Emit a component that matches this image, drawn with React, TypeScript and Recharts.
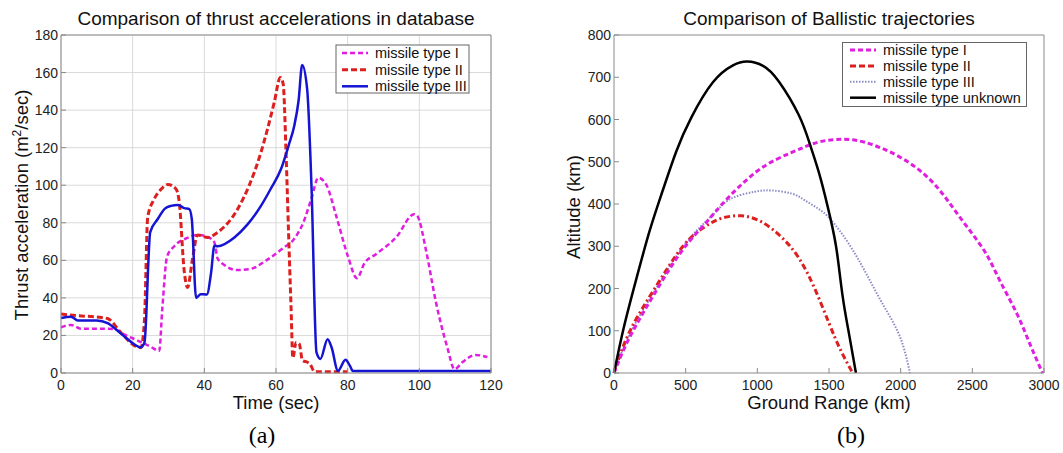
import React from 'react';
import { LineChart, Line, XAxis, YAxis, CartesianGrid } from 'recharts';

// (a) thrust acceleration vs time, [t (sec), a (m2/sec)]
const thrustTypeI = [
  [0, 24.3], [2.8, 25.6], [5.6, 23.6], [10, 23.6], [14.9, 23.4], [17.7, 20.5], [20, 18.5], [22.3, 16.5],
  [25, 14], [27.4, 11.8], [28.3, 35], [29.6, 62], [31.6, 67.5], [35.3, 72], [38.1, 73.5], [40.9, 72.5],
  [42.8, 69.6], [43.7, 61], [45.6, 57.5], [49.3, 54.8], [53, 55.5], [57.7, 60.5], [62, 66.5], [65.1, 71.5],
  [67.6, 80], [69.9, 93], [71.8, 104], [74.1, 100], [76.9, 83], [80.1, 62], [82.6, 50.5], [84.7, 58.5],
  [88, 63.4], [93.5, 72.2], [98.6, 84.6], [99.5, 83.5], [101.9, 65], [104.6, 38], [107.9, 13], [109.8, 2],
  [112, 5.7], [115.7, 9.6], [119, 8.5],
];
const thrustTypeII = [
  [0, 31.4], [4.7, 30.5], [10, 29.8], [13, 29], [16.7, 21.6], [20.5, 14.6], [22.3, 13.5], [23.3, 28.7],
  [24.2, 83], [26, 92.6], [28, 98], [29.8, 100.4], [32.1, 98], [33, 91], [34.4, 54], [35.3, 45.6],
  [36.7, 60.7], [38.1, 73.5], [40.9, 72.2], [43.7, 74.9], [49.3, 87.3], [55.8, 117.5], [59.5, 144],
  [61.2, 157.4], [62, 154], [62.8, 117.5], [63.5, 75], [64.2, 35], [64.7, 8], [65.6, 16.3], [66.5, 15.4],
  [67.4, 6.6], [68.8, 5.7], [69.4, 5], [70.8, 0.7], [80, 0.7],
];
const thrustTypeIII = [
  [0, 29.3], [2.8, 30], [4.7, 28], [10, 28], [13, 26.6], [15.8, 22.5], [18.6, 18], [22.3, 13.7],
  [23.3, 16.3], [24.9, 75], [27, 82], [29, 87.5], [30.7, 89], [32.6, 89.5], [34.4, 87.8], [35.8, 87.3],
  [36.5, 82], [37.7, 40], [39, 42], [40.7, 41.8], [41.9, 53.6], [42.8, 67.8], [43.7, 67.5], [48.4, 72.2],
  [52, 79], [55.8, 89], [58.5, 98], [61.4, 108.6], [63.5, 121], [65.1, 131.7], [66.3, 145], [67.3, 164],
  [68.7, 151], [69.9, 99.7], [71.3, 11], [72.4, 7.5], [74.4, 18], [75.5, 13.7], [77.3, 1.2], [79.4, 7.1],
  [80.6, 3.9], [81.5, 1], [120, 1],
];

// (b) ballistic trajectories, [ground range (km), altitude (km)]
const trajTypeI = [
  [0, 0], [110, 85], [290, 192], [480, 292], [633, 352], [750, 398], [1000, 478], [1240, 522], [1420, 546],
  [1580, 553], [1750, 546], [2000, 510], [2230, 449], [2410, 370], [2580, 291], [2690, 220], [2810, 141],
  [2900, 70], [2990, 0],
];
const trajTypeII = [
  [0, 0], [109, 98], [284, 200], [481, 300], [633, 346], [749, 366], [888, 372], [1028, 358], [1167, 322],
  [1290, 272], [1400, 200], [1500, 118], [1580, 55], [1665, 0],
];
const trajTypeIII = [
  [0, 0], [110, 92], [290, 198], [480, 298], [633, 356], [720, 385], [819, 413], [981, 429], [1098, 432],
  [1237, 425], [1330, 409], [1420, 390], [1510, 364], [1640, 305], [1760, 235], [1880, 160], [1995, 86],
  [2065, 0],
];
const trajUnknown = [
  [0, 0], [70, 110], [160, 228], [250, 338], [340, 432], [435, 525], [540, 605], [690, 688], [830, 728],
  [930, 737], [1040, 727], [1150, 690], [1290, 610], [1370, 538], [1440, 462], [1510, 366], [1555, 287],
  [1595, 182], [1640, 92], [1688, 0],
];

const timeTicks = [0, 20, 40, 60, 80, 100, 120];
const accelTicks = [0, 20, 40, 60, 80, 100, 120, 140, 160, 180];
const rangeTicks = [0, 500, 1000, 1500, 2000, 2500, 3000];
const altitudeTicks = [0, 100, 200, 300, 400, 500, 600, 700, 800];

const thrustNames = ['missile type I', 'missile type II', 'missile type III'];
const trajNames = ['missile type I', 'missile type II', 'missile type III', 'missile type unknown'];

const toPts = (arr: number[][]) => arr.map(([x, y]) => ({ x, y }));

const FONT = '"Liberation Sans", Arial, sans-serif';
const FRAME = '#8a8a8a';
const TL = 5;

const MAGENTA = '#e01ee0';
const RED = '#dc2020';
const BLUE = '#1414d2';
const LAVENDER = '#8c8cc8';

const BottomTick = (p: any) => (
  <g>
    <line x1={p.x} y1={p.y} x2={p.x} y2={p.y - TL} stroke={FRAME} />
    <text x={p.x} y={p.y + 17} textAnchor="middle" fontSize={14} fill="#222" fontFamily={FONT}>
      {p.payload.value}
    </text>
  </g>
);
const LeftTick = (p: any) => (
  <g>
    <line x1={p.x} y1={p.y} x2={p.x + TL} y2={p.y} stroke={FRAME} />
    <text x={p.x - 3} y={p.y + 5} textAnchor="end" fontSize={14} fill="#222" fontFamily={FONT}>
      {p.payload.value}
    </text>
  </g>
);
const TopTick = (p: any) => <line x1={p.x} y1={p.y} x2={p.x} y2={p.y + TL} stroke={FRAME} />;
const RightTick = (p: any) => <line x1={p.x} y1={p.y} x2={p.x - TL} y2={p.y} stroke={FRAME} />;

// four axes boxing the plot; margins are set so the plot area lands where the reference has it
const Frame = ({ xd, yd, xt, yt }: { xd: number[]; yd: number[]; xt: number[]; yt: number[] }) => [
  <XAxis key="b" xAxisId="b" type="number" dataKey="x" domain={xd} ticks={xt} interval={0} height={20}
    tickSize={0} tickMargin={0} tickLine={false} tick={<BottomTick />} axisLine={{ stroke: FRAME }} />,
  <XAxis key="t" xAxisId="t" orientation="top" type="number" dataKey="x" domain={xd} ticks={xt} interval={0}
    height={2} tickSize={0} tickMargin={0} tickLine={false} tick={<TopTick />} axisLine={{ stroke: FRAME }} />,
  <YAxis key="l" yAxisId="l" type="number" dataKey="y" domain={yd} ticks={yt} interval={0} width={20}
    tickSize={0} tickMargin={0} tickLine={false} tick={<LeftTick />} axisLine={{ stroke: FRAME }} />,
  <YAxis key="r" yAxisId="r" orientation="right" type="number" dataKey="y" domain={yd} ticks={yt} interval={0}
    width={2} tickSize={0} tickMargin={0} tickLine={false} tick={<RightTick />} axisLine={{ stroke: FRAME }} />,
];

const series = (data: number[][], name: string, color: string, width: number, dash?: string, type: any = 'monotone') => (
  <Line key={name} xAxisId="b" yAxisId="l" data={toPts(data)} dataKey="y" name={name} type={type}
    stroke={color} strokeWidth={width} strokeDasharray={dash} dot={false} activeDot={false}
    isAnimationActive={false} />
);

const LegendRow = ({ x, y, color, width, dash, label }: any) => (
  <g>
    <line x1={x} y1={y} x2={x + 26} y2={y} stroke={color} strokeWidth={width} strokeDasharray={dash} />
    <text x={x + 33} y={y + 5} fontSize={14.5} fill="#111" fontFamily={FONT}>{label}</text>
  </g>
);

export default function App() {
  return (
    <div style={{ position: 'absolute', left: 0, top: 0, width: 1063, height: 453, background: '#fff' }}>
      <div style={{ position: 'absolute', left: 0, top: 0 }}>
        <LineChart width={530} height={453} margin={{ top: 33, right: 37, bottom: 60, left: 41 }}>
          <CartesianGrid xAxisId="b" yAxisId="l" stroke="#dadada" />
          {Frame({ xd: [0, 120], yd: [0, 180], xt: timeTicks, yt: accelTicks })}
          {series(thrustTypeI, thrustNames[0], MAGENTA, 2.5, '5 3')}
          {series(thrustTypeII, thrustNames[1], RED, 3, '6 3')}
          {series(thrustTypeIII, thrustNames[2], BLUE, 2.5)}
        </LineChart>
      </div>
      <div style={{ position: 'absolute', left: 530, top: 0 }}>
        <LineChart width={533} height={453} margin={{ top: 33, right: 17, bottom: 60, left: 64 }}>
          {Frame({ xd: [0, 3000], yd: [0, 800], xt: rangeTicks, yt: altitudeTicks })}
          {series(trajTypeIII, trajNames[2], LAVENDER, 2, '1.5 1.5', 'natural')}
          {series(trajTypeII, trajNames[1], RED, 3, '6 3 2 3', 'natural')}
          {series(trajTypeI, trajNames[0], MAGENTA, 3, '5 3', 'natural')}
          {series(trajUnknown, trajNames[3], '#000', 2.5, undefined, 'natural')}
        </LineChart>
      </div>
      <svg width={1063} height={453} style={{ position: 'absolute', left: 0, top: 0, pointerEvents: 'none' }}>
        <g fontFamily={FONT} fill="#111">
          <text x={276} y={25} textAnchor="middle" fontSize={19}>Comparison of thrust accelerations in database</text>
          <text x={829} y={25} textAnchor="middle" fontSize={19}>Comparison of Ballistic trajectories</text>
          <text x={276} y={409} textAnchor="middle" fontSize={18.5}>Time (sec)</text>
          <text x={829} y={409} textAnchor="middle" fontSize={18.5}>Ground Range (km)</text>
          <text x={27.5} y={205} textAnchor="middle" fontSize={18.5} transform="rotate(-90 27.5 205)">
            Thrust acceleration (m<tspan dy={-7} fontSize={12}>2</tspan><tspan dy={7}>/sec)</tspan>
          </text>
          <text x={579.5} y={207} textAnchor="middle" fontSize={18.5} transform="rotate(-90 579.5 207)">
            Altitude (km)
          </text>
        </g>
        <text x={262} y={443} textAnchor="middle" fontSize={24} fontFamily='"Liberation Serif", "Times New Roman", serif'>(a)</text>
        <text x={851} y={443} textAnchor="middle" fontSize={24} fontFamily='"Liberation Serif", "Times New Roman", serif'>(b)</text>

        <rect x={336} y={45} width={133} height={48} fill="#fff" stroke="#666" />
        <LegendRow x={342} y={53} color={MAGENTA} width={2.5} dash="5 3" label={thrustNames[0]} />
        <LegendRow x={342} y={69.7} color={RED} width={3} dash="6 3" label={thrustNames[1]} />
        <LegendRow x={342} y={86.3} color={BLUE} width={2.5} label={thrustNames[2]} />

        <rect x={842.5} y={42.5} width={184} height={64} fill="#fff" stroke="#666" />
        <LegendRow x={850} y={50} color={MAGENTA} width={3} dash="5 3" label={trajNames[0]} />
        <LegendRow x={850} y={66} color={RED} width={3} dash="6 3" label={trajNames[1]} />
        <LegendRow x={850} y={81.7} color={LAVENDER} width={2} dash="1.5 1.5" label={trajNames[2]} />
        <LegendRow x={850} y={97.7} color="#000" width={2.5} label={trajNames[3]} />
      </svg>
    </div>
  );
}
